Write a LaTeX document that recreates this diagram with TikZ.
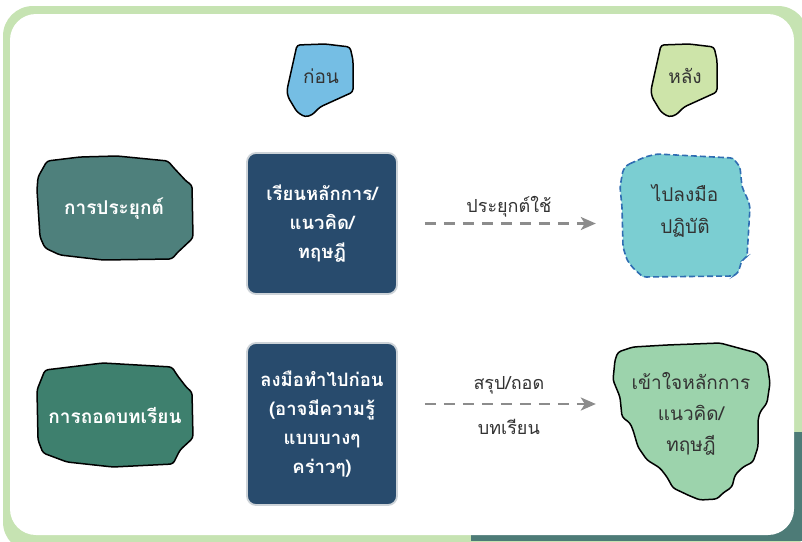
\documentclass[tikz,border=0pt]{standalone}
\usepackage{fontspec}
\setmainfont[Script=Thai]{Loma}
\usetikzlibrary{arrows.meta}
\definecolor{framegreen}{HTML}{C6E3B2}
\definecolor{darkteal}{HTML}{4D7B77}
\definecolor{beforeblue}{HTML}{75BEE4}
\definecolor{aftergreen}{HTML}{CDE4A9}
\definecolor{applyteal}{HTML}{4E807C}
\definecolor{lessongreen}{HTML}{3E806E}
\definecolor{boxblue}{HTML}{284B6D}
\definecolor{boxedge}{HTML}{CDD3D8}
\definecolor{handscyan}{HTML}{7BCED2}
\definecolor{handsedge}{HTML}{2F6DB2}
\definecolor{understandgreen}{HTML}{9CD3AC}
\definecolor{arrowgray}{HTML}{8C8C8C}
\definecolor{textdark}{HTML}{333333}
\tikzset{
  blob/.style={draw=black, line width=1.5pt, rounded corners=3pt},
  whitetxt/.style={text=white, font=\fontsize{19}{30}\selectfont\bfseries, align=center},
  darktxt/.style={text=textdark, font=\fontsize{19}{32}\selectfont, align=center},
  boxnode/.style={fill=boxblue, draw=boxedge, line width=1.8pt, rounded corners=9pt,
    minimum width=150pt, text=white, font=\fontsize{18.5}{29}\selectfont\bfseries, align=center},
  arr/.style={draw=arrowgray, line width=2.4pt, dash pattern=on 11pt off 8pt,
    -{Stealth[length=15pt,width=13pt,inset=4pt]}},
  lbl/.style={text=textdark, font=\fontsize{18}{22}\selectfont}
}
\begin{document}
\begin{tikzpicture}[x=1pt,y=-1pt]
\useasboundingbox (0,0) rectangle (802,541);
% frame
\fill[framegreen, rounded corners=30pt] (3,6) rectangle (808,552);
\fill[darkteal] (471,432) rectangle (802,541);
\fill[white, rounded corners=26pt] (10,14) rectangle (794,535);

% before blob
\fill[beforeblue] [blob] (297,45) -- (325,44) -- (350,47) -- (353,60) -- (353,92) -- (320,107) -- (312,115) -- (305,117) -- (297,112) -- (288,97) -- (287,90) -- (293,63) -- cycle;
\node[darktxt] (before) at (321,76) {ก่อน};
% after blob
\fill[aftergreen] [blob] (661,45) -- (689,44) -- (714,47) -- (717,60) -- (717,92) -- (684,107) -- (676,115) -- (669,117) -- (661,112) -- (652,97) -- (651,90) -- (657,63) -- cycle;
\node[darktxt] (after) at (685,76) {หลัง};

% apply blob
\fill[applyteal] [blob] (47,161) -- (80,157) -- (117,156) -- (168,161) -- (173,167) -- (187,182) -- (192,185) -- (193,238) -- (177,253) -- (172,259) -- (103,260) -- (60,255) -- (45,248) -- (40,237) -- (37,190) -- (38,177) -- cycle;
\node[whitetxt] (apply) at (114,209) {การประยุกต์};

% lesson blob
\fill[lessongreen] [blob] (45,370) -- (103,363) -- (172,367) -- (177,375) -- (187,388) -- (192,392) -- (193,438) -- (180,450) -- (173,464) -- (113,467) -- (67,462) -- (43,453) -- (38,440) -- (37,390) -- cycle;
\node[whitetxt] (lesson) at (115,415) {การถอดบทเรียน};

% dark boxes
\node[boxnode, minimum height=141pt] (learn) at (322,223.5) {เรียนหลักการ/\\แนวคิด/\\ทฤษฎี};
\node[boxnode, minimum height=162pt] (doit) at (322,424) {ลงมือทำไปก่อน\\(อาจมีความรู้\\แบบบางๆ\\คร่าวๆ)};

% hands-on blob
\fill[handscyan] (627,165) -- (645,157) -- (657,154) -- (733,158) -- (740,167) -- (742,187) -- (748,200) -- (750,207) -- (747,257) -- (742,260) -- (738,273) -- (733,276) -- (643,277) -- (633,268) -- (627,260) -- (623,247) -- (622,207) -- (620,187) -- (623,170) -- cycle;
\draw[handsedge, line width=1.6pt, dash pattern=on 6pt off 3pt, rounded corners=3pt] (627,165) -- (645,157) -- (657,154) -- (733,158) -- (740,167) -- (742,187) -- (748,200) -- (750,207) -- (747,257) -- (742,260) -- (738,273) -- (733,276) -- (643,277) -- (633,268) -- (627,260) -- (623,247) -- (622,207) -- (620,187) -- (623,170) -- cycle;
\node[darktxt, minimum width=130pt] (hands) at (685,211) {ไปลงมือ\\ปฏิบัติ};

% understand blob
\fill[understandgreen] [blob] (618,352) -- (633,347) -- (667,345) -- (720,343) -- (757,353) -- (767,363) -- (770,383) -- (767,403) -- (760,412) -- (758,420) -- (758,447) -- (753,462) -- (743,467) -- (735,475) -- (732,487) -- (723,493) -- (717,499) -- (700,500) -- (690,496) -- (673,488) -- (667,477) -- (660,468) -- (647,460) -- (638,447) -- (633,430) -- (630,423) -- (622,417) -- (620,397) -- (613,380) -- (615,360) -- cycle;
\node[darktxt, minimum width=150pt, font=\fontsize{19}{31}\selectfont] (understand) at (691,414) {เข้าใจหลักการ\\แนวคิด/\\ทฤษฎี};

% arrows
\draw[arr, shorten <=27pt, shorten >=24pt] (learn.east) -- (learn.east -| hands.west)
  node[lbl, midway, above=2pt] (applylbl) {ประยุกต์ใช้};
\draw[arr, shorten <=27pt, shorten >=24pt] ([yshift=20pt]doit.east) -- ([yshift=20pt]doit.east -| hands.west)
  node[lbl, midway, above=5pt] (sumlbl) {สรุป/ถอด}
  node[lbl, midway, below=11pt] (sumlbl2) {บทเรียน};
\end{tikzpicture}
\end{document}
